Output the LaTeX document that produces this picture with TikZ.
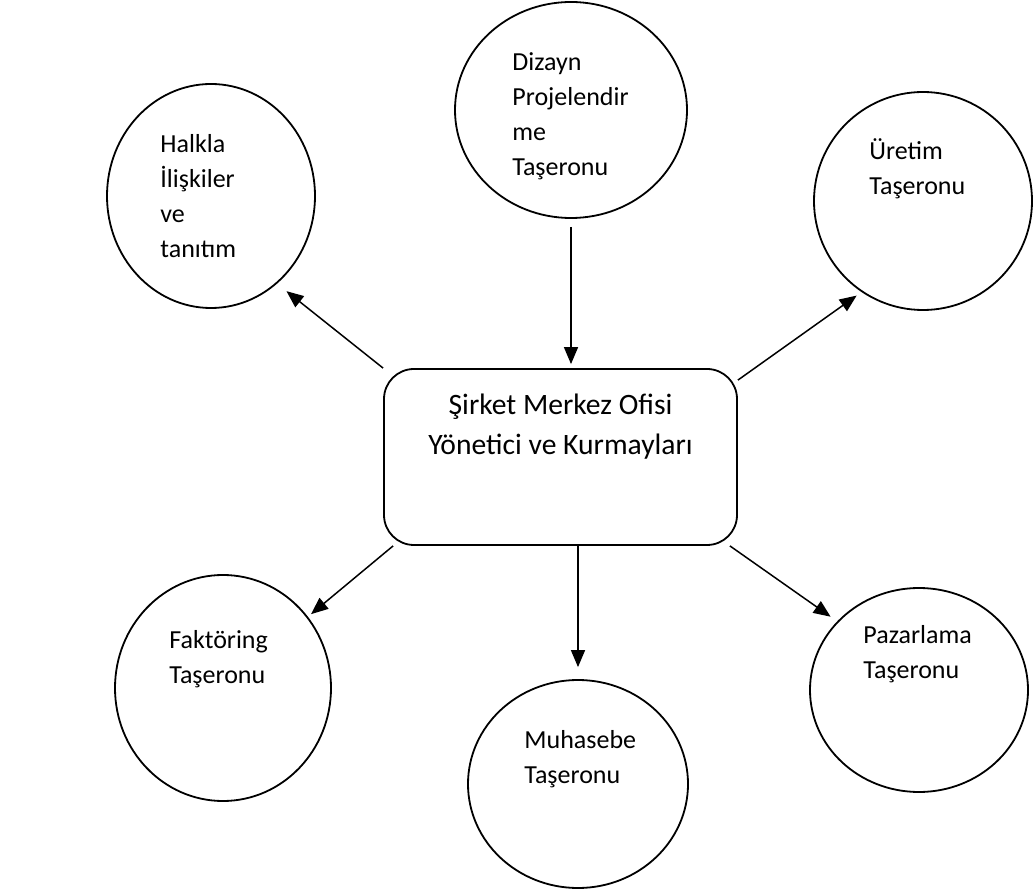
\documentclass[tikz,border=0pt]{standalone}
\usepackage{fontspec}
\setmainfont{Carlito}
\usepackage{tikz}
\usetikzlibrary{arrows.meta,shapes.geometric}

\tikzset{
  daire/.style={draw, ellipse, line width=0.9pt, inner sep=0pt},
  ofis/.style={draw, rectangle, rounded corners=15pt, line width=0.9pt, inner sep=0pt},
  yazi/.style={anchor=base west, align=left, inner sep=0pt, font=\fontsize{13}{17.5}\selectfont},
  ok/.style={line width=0.75pt, -{Triangle[length=8.5pt,width=7pt]}}
}

\begin{document}
\begin{tikzpicture}[x=0.5pt,y=-0.5pt]
\useasboundingbox (0,0) rectangle (1033,892);
% center box
\node[ofis, minimum width=176.5pt, minimum height=88pt] (merkez) at (560.5,457) {};
\node[font=\fontsize{14.8}{20}\selectfont, align=center, anchor=base, inner sep=0pt] (merkez-y) at (560.5,455)
  {Şirket Merkez Ofisi\\Yönetici ve Kurmayları};
% circles round it
\node[daire, minimum width=116pt, minimum height=108pt] (dizayn) at (571,110) {};
\node[daire, minimum width=104pt, minimum height=112pt] (halkla) at (211,196) {};
\node[daire, minimum width=109pt, minimum height=109pt] (uretim) at (923,201) {};
\node[daire, minimum width=108pt, minimum height=113pt] (faktoring) at (223,688) {};
\node[daire, minimum width=110pt, minimum height=104pt] (muhasebe) at (578,784) {};
\node[daire, minimum width=109pt, minimum height=102pt] (pazarlama) at (919,690) {};
% texts (base = last line)
\node[yazi] (dizayn-y) at (512,176) {Dizayn\\Projelendir\\me\\Taşeronu};
\node[yazi] (halkla-y) at (160,258) {Halkla\\İlişkiler\\ve\\tanıtım};
\node[yazi] (uretim-y) at (869,195) {Üretim\\Taşeronu};
\node[yazi] (faktoring-y) at (169,683) {Faktöring\\Taşeronu};
\node[yazi] (muhasebe-y) at (524,783) {Muhasebe\\Taşeronu};
\node[yazi] (pazarlama-y) at (863,678) {Pazarlama\\Taşeronu};
% arrows
\draw[ok, shorten <=4pt, shorten >=2pt] (dizayn.south) -- (dizayn.south |- merkez.north);
\draw[ok, shorten >=6pt] (merkez.north west) -- (halkla.-53);
\draw[ok, shorten >=3pt] ([yshift=-6pt]merkez.north east) -- (uretim.-124);
\draw[ok, shorten >=2pt] ([xshift=5pt]merkez.south west) -- (faktoring.40);
\draw[ok, shorten >=6pt] (muhasebe.north |- merkez.south) -- (muhasebe.north);
\draw[ok, shorten >=4pt] ([xshift=-4pt]merkez.south east) -- (pazarlama.140);
\end{tikzpicture}
\end{document}
